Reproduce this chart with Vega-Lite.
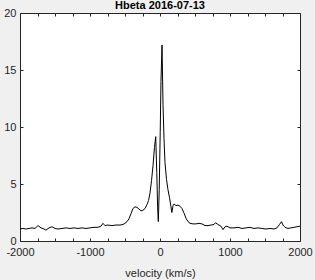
{
  "$schema": "https://vega.github.io/schema/vega-lite/v6.json",
  "width": 280,
  "height": 228,
  "autosize": {"type": "none"},
  "padding": {"left": 20, "top": 13, "right": 15, "bottom": 39},
  "background": "#f0f0f0",
  "config": {
    "view": {"fill": "white", "stroke": "#262626", "strokeWidth": 1},
    "font": "Liberation Sans",
    "axis": {"labelFont": "Liberation Sans", "titleFont": "Liberation Sans", "labelColor": "#262626", "titleColor": "#262626", "tickColor": "#262626", "grid": false, "domain": false, "labelFontSize": 11, "titleFontSize": 11}
  },
  "title": {"text": "Hbeta 2016-07-13", "fontSize": 11, "fontWeight": "bold", "color": "#000000", "offset": 3, "dy": 7, "font": "Liberation Sans"},
  "data": {"values": [
    {"v": -2000, "f": 1.05}, {"v": -1957, "f": 1.1}, {"v": -1914, "f": 1.05}, {"v": -1871, "f": 1.1},
    {"v": -1829, "f": 1.15}, {"v": -1786, "f": 1.1}, {"v": -1743, "f": 1.35}, {"v": -1700, "f": 1.15},
    {"v": -1657, "f": 1.05}, {"v": -1629, "f": 0.95}, {"v": -1586, "f": 1.15}, {"v": -1543, "f": 1.25},
    {"v": -1500, "f": 1.1}, {"v": -1457, "f": 1.05}, {"v": -1400, "f": 1.1}, {"v": -1343, "f": 1.15},
    {"v": -1286, "f": 1.1}, {"v": -1229, "f": 1.15}, {"v": -1171, "f": 1.1}, {"v": -1114, "f": 1.15},
    {"v": -1057, "f": 1.1}, {"v": -1000, "f": 1.15}, {"v": -943, "f": 1.2}, {"v": -886, "f": 1.2},
    {"v": -843, "f": 1.3}, {"v": -814, "f": 1.55}, {"v": -786, "f": 1.35}, {"v": -743, "f": 1.4},
    {"v": -686, "f": 1.35}, {"v": -629, "f": 1.4}, {"v": -571, "f": 1.4}, {"v": -529, "f": 1.45},
    {"v": -500, "f": 1.55}, {"v": -471, "f": 1.7}, {"v": -443, "f": 1.95}, {"v": -414, "f": 2.4},
    {"v": -386, "f": 2.85}, {"v": -357, "f": 3.0}, {"v": -329, "f": 2.95}, {"v": -300, "f": 2.8},
    {"v": -271, "f": 2.65}, {"v": -243, "f": 2.7}, {"v": -214, "f": 2.85}, {"v": -186, "f": 3.2},
    {"v": -164, "f": 3.55}, {"v": -143, "f": 4.2}, {"v": -121, "f": 5.3}, {"v": -100, "f": 6.6},
    {"v": -79, "f": 8.2}, {"v": -61, "f": 9.15}, {"v": -46, "f": 6.0}, {"v": -34, "f": 3.0},
    {"v": -24, "f": 1.7}, {"v": -11, "f": 4.5}, {"v": 3, "f": 9.5}, {"v": 14, "f": 14.0},
    {"v": 29, "f": 17.2}, {"v": 43, "f": 12.0}, {"v": 57, "f": 9.0}, {"v": 71, "f": 6.9},
    {"v": 93, "f": 5.4}, {"v": 114, "f": 4.5}, {"v": 136, "f": 3.8}, {"v": 157, "f": 3.0},
    {"v": 169, "f": 2.5}, {"v": 186, "f": 3.1}, {"v": 200, "f": 3.25}, {"v": 229, "f": 3.1},
    {"v": 257, "f": 3.15}, {"v": 286, "f": 3.05}, {"v": 314, "f": 2.85}, {"v": 343, "f": 2.45},
    {"v": 371, "f": 2.0}, {"v": 400, "f": 1.7}, {"v": 429, "f": 1.55}, {"v": 471, "f": 1.5},
    {"v": 514, "f": 1.5}, {"v": 557, "f": 1.55}, {"v": 600, "f": 1.5}, {"v": 643, "f": 1.35},
    {"v": 686, "f": 1.35}, {"v": 729, "f": 1.4}, {"v": 771, "f": 1.45}, {"v": 793, "f": 1.6},
    {"v": 829, "f": 1.45}, {"v": 871, "f": 1.3}, {"v": 900, "f": 1.0}, {"v": 929, "f": 1.25},
    {"v": 957, "f": 1.3}, {"v": 1000, "f": 1.15}, {"v": 1057, "f": 1.15}, {"v": 1114, "f": 1.2},
    {"v": 1171, "f": 1.1}, {"v": 1229, "f": 1.15}, {"v": 1286, "f": 1.2}, {"v": 1343, "f": 1.1},
    {"v": 1400, "f": 1.15}, {"v": 1457, "f": 1.1}, {"v": 1514, "f": 1.05}, {"v": 1571, "f": 1.1},
    {"v": 1629, "f": 1.05}, {"v": 1671, "f": 1.15}, {"v": 1707, "f": 1.45}, {"v": 1736, "f": 1.7},
    {"v": 1757, "f": 1.4}, {"v": 1786, "f": 1.2}, {"v": 1829, "f": 1.1}, {"v": 1871, "f": 1.15},
    {"v": 1914, "f": 1.2}, {"v": 1957, "f": 1.25}, {"v": 2000, "f": 1.3}
  ]},
  "layer": [
    {
      "mark": {"type": "line", "color": "#000000", "strokeWidth": 1},
      "encoding": {
        "x": {"field": "v", "type": "quantitative", "scale": {"domain": [-2000, 2000], "nice": false, "zero": false},
          "axis": {"orient": "bottom", "title": "velocity (km/s)", "values": [-2000, -1750, -1500, -1250, -1000, -750, -500, -250, 0, 250, 500, 750, 1000, 1250, 1500, 1750, 2000],
            "labelExpr": "datum.value % 1000 === 0 ? '' + datum.value : ''", "tickSize": -3, "labelPadding": 8, "labelFlush": false, "labelOverlap": false,
            "titleY": 35, "titleBaseline": "alphabetic", "titleFontWeight": "normal"}},
        "y": {"field": "f", "type": "quantitative", "scale": {"domain": [0, 20], "nice": false},
          "axis": {"orient": "left", "title": null, "values": [0, 5, 10, 15, 20], "tickSize": -3, "labelPadding": 7, "labelFlush": false, "labelOverlap": false}}
      }
    },
    {
      "mark": {"type": "line", "strokeOpacity": 0},
      "encoding": {
        "x": {"field": "v", "type": "quantitative", "scale": {"domain": [-2000, 2000], "nice": false, "zero": false},
          "axis": {"orient": "top", "title": null, "labels": false, "values": [-2000, -1750, -1500, -1250, -1000, -750, -500, -250, 0, 250, 500, 750, 1000, 1250, 1500, 1750, 2000], "tickSize": -3}},
        "y": {"field": "f", "type": "quantitative", "scale": {"domain": [0, 20], "nice": false},
          "axis": {"orient": "right", "title": null, "labels": false, "values": [0, 5, 10, 15, 20], "tickSize": -3}}
      }
    }
  ],
  "resolve": {"axis": {"x": "independent", "y": "independent"}}
}
